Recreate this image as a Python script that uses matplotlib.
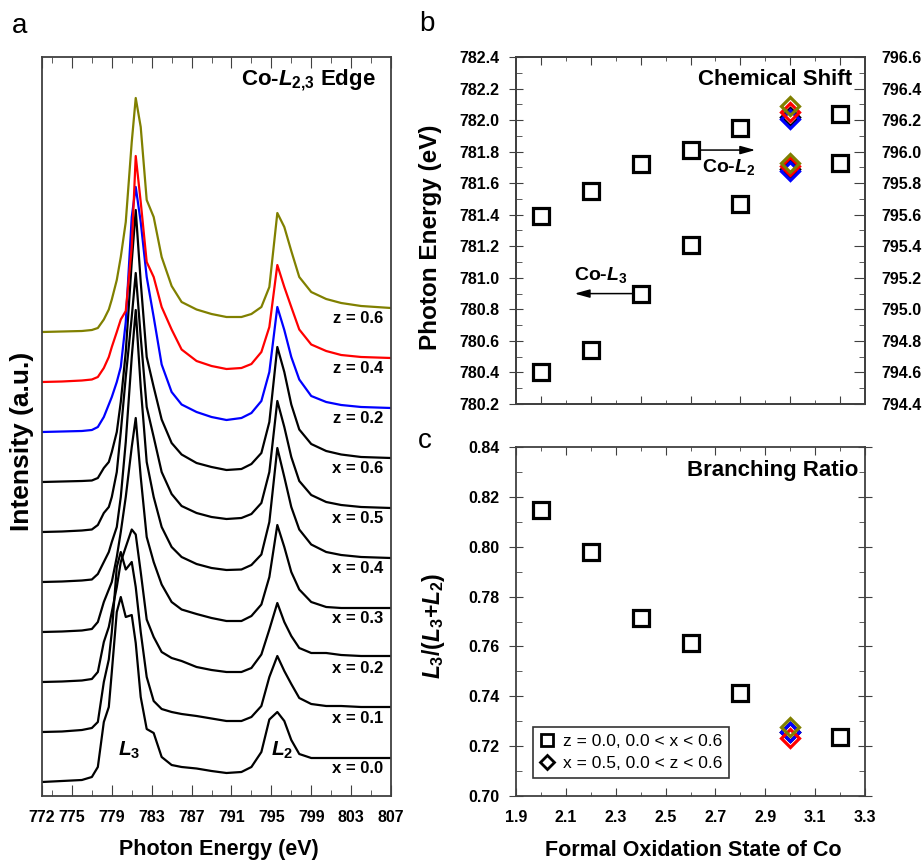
import numpy as np
import matplotlib.pyplot as plt
from matplotlib.ticker import MultipleLocator, FixedLocator
from matplotlib.lines import Line2D

plt.rcParams['font.family'] = ['Liberation Sans', 'DejaVu Sans']
plt.rcParams['font.weight'] = 'bold'
plt.rcParams['axes.labelweight'] = 'bold'
plt.rcParams['mathtext.fontset'] = 'custom'
plt.rcParams['mathtext.rm'] = 'Liberation Sans:bold'
plt.rcParams['mathtext.it'] = 'Liberation Sans:italic:bold'
plt.rcParams['mathtext.bf'] = 'Liberation Sans:bold'

# ---- panel a: Co-L2,3 XAS spectra (height above each baseline) ----
energy = [772, 774, 776, 777, 777.6, 778.2, 778.7, 779.0, 779.5, 779.9, 780.4, 781.0,
          781.4, 781.9, 782.5, 783.2, 784.0, 785.0, 786.0, 787.5, 789.0, 790.5, 792.0,
          793.0, 794.0, 794.8, 795.6, 796.3, 797.0, 797.8, 799.0, 800.5, 802.0, 804.0, 807.0]

int_x00 = [0, 0.02, 0.04, 0.1, 0.3, 1.2, 1.5, 2.2, 3.4, 3.7, 3.3, 3.34, 2.78, 1.7, 1.06,
           0.98, 0.5, 0.34, 0.3, 0.27, 0.22, 0.18, 0.2, 0.3, 0.6, 1.25, 1.4, 1.22, 0.84,
           0.56, 0.48, 0.48, 0.48, 0.48, 0.48]
int_x01 = [0, 0.01, 0.04, 0.08, 0.2, 1.0, 1.45, 2.0, 3.3, 3.6, 3.25, 3.4, 2.9, 2.0, 1.1,
           0.62, 0.46, 0.4, 0.36, 0.32, 0.27, 0.22, 0.22, 0.3, 0.52, 1.1, 1.52, 1.22, 0.96,
           0.68, 0.56, 0.52, 0.52, 0.5, 0.5]
int_x02 = [0, 0.01, 0.03, 0.06, 0.2, 0.8, 1.1, 1.4, 1.9, 2.4, 2.7, 3.05, 2.95, 2.2, 1.25,
           0.9, 0.6, 0.48, 0.42, 0.3, 0.24, 0.2, 0.2, 0.28, 0.55, 1.05, 1.58, 1.2, 0.92,
           0.68, 0.58, 0.58, 0.54, 0.52, 0.52]
int_x03 = [0, 0.01, 0.03, 0.06, 0.2, 0.6, 0.85, 1.0, 1.5, 2.0, 2.7, 3.7, 4.28, 3.1, 1.9,
           1.4, 0.95, 0.6, 0.45, 0.36, 0.28, 0.22, 0.22, 0.32, 0.55, 1.1, 2.14, 1.7, 1.2,
           0.85, 0.6, 0.5, 0.48, 0.48, 0.48]
int_x04 = [0, 0.01, 0.03, 0.05, 0.16, 0.4, 0.6, 0.8, 1.1, 1.7, 2.8, 4.5, 5.44, 3.9, 2.4,
           1.7, 1.1, 0.7, 0.5, 0.36, 0.28, 0.24, 0.25, 0.34, 0.55, 1.2, 2.68, 2.1, 1.5,
           1.05, 0.75, 0.6, 0.54, 0.5, 0.48]
int_x05 = [0, 0.01, 0.03, 0.05, 0.14, 0.38, 0.5, 0.7, 1.2, 2.0, 3.1, 4.3, 5.18, 3.9, 2.5,
           1.9, 1.2, 0.76, 0.52, 0.38, 0.3, 0.26, 0.28, 0.36, 0.58, 1.2, 2.62, 2.1, 1.5,
           1.02, 0.74, 0.6, 0.54, 0.5, 0.48]
int_x06 = [0, 0.01, 0.02, 0.03, 0.08, 0.28, 0.4, 0.6, 1.0, 1.6, 2.6, 4.4, 5.44, 4.0, 2.5,
           1.9, 1.25, 0.78, 0.55, 0.38, 0.3, 0.24, 0.26, 0.36, 0.58, 1.2, 2.7, 2.2, 1.55,
           1.05, 0.76, 0.62, 0.55, 0.5, 0.48]
int_z02 = [0, 0.01, 0.02, 0.04, 0.1, 0.3, 0.55, 0.7, 1.0, 1.3, 2.2, 4.3, 4.9, 4.2, 3.1,
           2.3, 1.35, 0.8, 0.55, 0.4, 0.3, 0.24, 0.28, 0.38, 0.62, 1.2, 2.5, 2.04, 1.5,
           1.05, 0.72, 0.6, 0.54, 0.5, 0.48]
int_z04 = [0, 0.01, 0.03, 0.05, 0.1, 0.28, 0.5, 0.7, 1.0, 1.25, 1.42, 2.7, 4.52, 3.6, 2.4,
           2.1, 1.5, 1.05, 0.65, 0.42, 0.32, 0.26, 0.28, 0.36, 0.6, 1.1, 2.34, 1.9, 1.5,
           1.05, 0.75, 0.62, 0.54, 0.5, 0.48]
int_z06 = [0, 0.01, 0.02, 0.04, 0.08, 0.25, 0.45, 0.65, 1.04, 1.5, 2.2, 3.8, 4.68, 4.1,
           2.64, 2.3, 1.5, 0.92, 0.6, 0.45, 0.36, 0.3, 0.3, 0.36, 0.5, 0.9, 2.38, 2.1, 1.62,
           1.1, 0.8, 0.66, 0.58, 0.52, 0.48]

spec_labels = ['x = 0.0', 'x = 0.1', 'x = 0.2', 'x = 0.3', 'x = 0.4', 'x = 0.5',
               'x = 0.6', 'z = 0.2', 'z = 0.4', 'z = 0.6']
spec_data = [int_x00, int_x01, int_x02, int_x03, int_x04, int_x05, int_x06,
             int_z02, int_z04, int_z06]
olive = '#808000'
spec_colors = ['k'] * 7 + ['#0000ff', '#ff0000', olive]

# ---- panel b: peak positions ----
ox_state = [2.0, 2.2, 2.4, 2.6, 2.8, 3.2]
l3_energy = [780.40, 780.54, 780.90, 781.21, 781.47, 781.73]
l2_energy = [795.59, 795.75, 795.92, 796.01, 796.15, 796.24]
z_state = [3.0, 3.0, 3.0, 3.0]          # x = 0.5, z = 0.0 / 0.2 / 0.4 / 0.6
z_colors = ['k', '#0000ff', '#ff0000', olive]
l3_energy_z = [781.69, 781.68, 781.71, 781.73]
l2_energy_z = [796.22, 796.21, 796.25, 796.29]

# ---- panel c: branching ratio ----
branch = [0.8147, 0.798, 0.7713, 0.7615, 0.7412, 0.7238]
branch_z = [0.7256, 0.7255, 0.7233, 0.7278]

W, H = 923, 860
fig = plt.figure(figsize=(W / 100, H / 100), dpi=100)
ax_a = fig.add_axes([42 / W, 64 / H, 349 / W, 739 / H])
ax_b = fig.add_axes([516 / W, 456 / H, 349 / W, 347 / H])
ax_c = fig.add_axes([516 / W, 64 / H, 349 / W, 349 / H])

frame_col = '#404040'
for ax in (ax_a, ax_b, ax_c):
    for sp in ax.spines.values():
        sp.set_color(frame_col)
        sp.set_linewidth(1.3)

# panel a
for i, (vals, col, lab) in enumerate(zip(spec_data, spec_colors, spec_labels)):
    ax_a.plot(energy, np.array(vals) + i, color=col, lw=1.6)
    ax_a.text(806.2, i + 0.27, lab, ha='right', va='center', fontsize=12)

ax_a.set_xlim(772, 807)
ax_a.set_ylim(-0.28, 14.5)
ax_a.xaxis.set_major_locator(FixedLocator([772, 775, 779, 783, 787, 791, 795, 799, 803, 807]))
ax_a.xaxis.set_minor_locator(FixedLocator([773, 777, 781, 785, 789, 793, 797, 801, 805]))
ax_a.tick_params(axis='x', which='both', direction='in', top=True, labelsize=11.5, pad=10,
                 color=frame_col)
ax_a.tick_params(axis='x', which='major', length=8)
ax_a.tick_params(axis='x', which='minor', length=4)
ax_a.set_yticks([])
ax_a.set_xlabel('Photon Energy (eV)', fontsize=15.5)
ax_a.xaxis.set_label_coords(0.507, -0.058)
ax_a.set_ylabel('Intensity (a.u.)', fontsize=19)
ax_a.yaxis.set_label_coords(-0.023, 0.48)
ax_a.text(0.957, 0.969, r'Co-$L_{2{,}3}$ Edge', transform=ax_a.transAxes,
          ha='right', va='center', fontsize=16)
ax_a.text(780.7, 0.64, r'$L_3$', ha='center', va='center', fontsize=15)
ax_a.text(796.1, 0.64, r'$L_2$', ha='center', va='center', fontsize=15)

# panel b
sq = dict(ls='none', marker='s', ms=11, mfc='none', mec='k', mew=2.3)
ax_b.plot(ox_state, l3_energy, **sq)
ax_b2 = ax_b.twinx()
ax_b2.plot(ox_state, l2_energy, **sq)
for xs, e3, e2, c in zip(z_state, l3_energy_z, l2_energy_z, z_colors):
    ax_b.plot(xs, e3, ls='none', marker='D', ms=9, mfc='none', mec=c, mew=2.3)
    ax_b2.plot(xs, e2, ls='none', marker='D', ms=9, mfc='none', mec=c, mew=2.3)

ax_b.set_xlim(1.9, 3.3)
ax_b.set_ylim(780.2, 782.4)
ax_b2.set_ylim(794.4, 796.6)
ax_b.xaxis.set_major_locator(FixedLocator([2.0, 2.2, 2.4, 2.6, 2.8, 3.0, 3.2]))
ax_b.xaxis.set_minor_locator(FixedLocator([2.1, 2.3, 2.5, 2.7, 2.9, 3.1]))
ax_b.tick_params(axis='x', which='both', direction='in', top=True, labelbottom=False,
                 color=frame_col)
ax_b.tick_params(axis='x', which='major', length=6)
ax_b.tick_params(axis='x', which='minor', length=3)
ax_b.yaxis.set_major_locator(MultipleLocator(0.2))
ax_b.yaxis.set_minor_locator(MultipleLocator(0.1))
ax_b.yaxis.set_major_formatter(lambda v, p: f'{v:.1f}')
ax_b.tick_params(axis='y', which='major', direction='inout', length=10, pad=7,
                 labelsize=11.5, color=frame_col)
ax_b.tick_params(axis='y', which='minor', direction='in', length=4, color=frame_col)
ax_b2.yaxis.set_major_locator(MultipleLocator(0.2))
ax_b2.yaxis.set_minor_locator(MultipleLocator(0.1))
ax_b2.yaxis.set_major_formatter(lambda v, p: f'{v:.1f}')
ax_b2.tick_params(axis='y', which='major', direction='in', length=8, pad=12,
                  labelsize=11.5, color=frame_col)
ax_b2.tick_params(axis='y', which='minor', direction='in', length=4, color=frame_col)
for sp in ax_b2.spines.values():
    sp.set_color(frame_col)
    sp.set_linewidth(1.3)

ax_b.set_ylabel('Photon Energy (eV)', fontsize=17.5)
ax_b.yaxis.set_label_coords(-0.212, 0.48)
ax_b.text(0.963, 0.934, 'Chemical Shift', transform=ax_b.transAxes,
          ha='right', va='center', fontsize=16)
arrow = dict(arrowstyle='-|>,head_length=0.9,head_width=0.25', color='k', lw=1.1,
             shrinkA=0, shrinkB=0)
ax_b.annotate('', xy=(2.86, 781.81), xytext=(2.64, 781.81), arrowprops=arrow)
ax_b.text(2.755, 781.70, r'Co-$L_2$', ha='center', va='center', fontsize=14)
ax_b.annotate('', xy=(2.135, 780.90), xytext=(2.365, 780.90), arrowprops=arrow)
ax_b.text(2.24, 781.02, r'Co-$L_3$', ha='center', va='center', fontsize=14)

# panel c
ax_c.plot(ox_state, branch, **sq)
for xs, b, c in zip(z_state, branch_z, z_colors):
    ax_c.plot(xs, b, ls='none', marker='D', ms=9, mfc='none', mec=c, mew=2.3)
ax_c.set_xlim(1.9, 3.3)
ax_c.set_ylim(0.70, 0.84)
ax_c.xaxis.set_major_locator(FixedLocator([1.9, 2.1, 2.3, 2.5, 2.7, 2.9, 3.1, 3.3]))
ax_c.xaxis.set_minor_locator(FixedLocator([2.0, 2.2, 2.4, 2.6, 2.8, 3.0, 3.2]))
ax_c.xaxis.set_major_formatter(lambda v, p: f'{v:.1f}')
ax_c.tick_params(axis='x', which='both', direction='in', top=True, labelsize=11.5,
                 pad=10, color=frame_col)
ax_c.tick_params(axis='x', which='major', length=6)
ax_c.tick_params(axis='x', which='minor', length=3)
ax_c.yaxis.set_major_locator(MultipleLocator(0.02))
ax_c.yaxis.set_minor_locator(MultipleLocator(0.01))
ax_c.yaxis.set_major_formatter(lambda v, p: f'{v:.2f}')
ax_c.tick_params(axis='y', which='major', direction='inout', length=10, pad=7,
                 labelsize=11.5, right=True, color=frame_col)
ax_c.tick_params(axis='y', which='minor', direction='in', length=4, right=True,
                 color=frame_col)
ax_c.set_xlabel('Formal Oxidation State of Co', fontsize=15.5)
ax_c.xaxis.set_label_coords(0.507, -0.125)
ax_c.set_ylabel(r'$L_3$/($L_3$+$L_2$)', fontsize=16.5)
ax_c.yaxis.set_label_coords(-0.198, 0.487)
ax_c.text(0.98, 0.934, 'Branching Ratio', transform=ax_c.transAxes,
          ha='right', va='center', fontsize=16)
handles = [Line2D([], [], ls='none', marker='s', ms=8.5, mfc='none', mec='k', mew=2),
           Line2D([], [], ls='none', marker='D', ms=7, mfc='none', mec='k', mew=2)]
leg = ax_c.legend(handles, ['z = 0.0, 0.0 < x < 0.6', 'x = 0.5, 0.0 < z < 0.6'],
                  loc='lower left', bbox_to_anchor=(0.049, 0.052), borderaxespad=0,
                  prop={'size': 12.5, 'weight': 'normal'}, frameon=True, fancybox=False,
                  edgecolor='k', handlelength=0.8, handletextpad=0.5, borderpad=0.4,
                  labelspacing=0.4)
leg.get_frame().set_linewidth(1.2)

# panel letters
fig.text(20 / W, 1 - 26 / H, 'a', ha='center', va='center', fontsize=20, fontweight='normal')
fig.text(427 / W, 1 - 24 / H, 'b', ha='center', va='center', fontsize=20, fontweight='normal')
fig.text(425 / W, 1 - 441 / H, 'c', ha='center', va='center', fontsize=20, fontweight='normal')

fig.savefig('out.png', dpi=100)
